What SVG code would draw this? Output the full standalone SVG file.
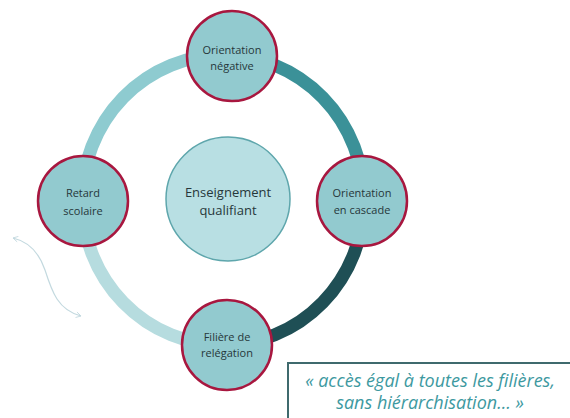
<svg xmlns="http://www.w3.org/2000/svg" width="570" height="418" viewBox="0 0 570 418">
  <style>
    .ring { fill: none; stroke-width: 13; }
    .node circle { fill: #92cacf; stroke: #a8173f; stroke-width: 2.5; }
    .label { font-family: "Open Sans", "Liberation Sans", sans-serif; font-size: 11px; fill: #26373a; text-anchor: middle; }
    .hub circle { fill: #b8dfe3; stroke: #5ea6ac; stroke-width: 1.5; }
    .hub text { font-size: 13px; }
    .quote { font-family: "Open Sans", "Liberation Sans", sans-serif; font-style: italic; font-size: 18px; fill: #3d999f; text-anchor: middle; }
  </style>
  <defs>
    <marker id="chev" viewBox="0 0 10 10" refX="8" refY="5" markerWidth="7" markerHeight="7" orient="auto-start-reverse" markerUnits="userSpaceOnUse">
      <path d="M1,1 L8,5 L1,9" fill="none" stroke="#c3d9df" stroke-width="1.2"/>
    </marker>
  </defs>
  <rect width="570" height="418" fill="#ffffff"/>

  <!-- cycle ring, one arc per step -->
  <g id="connectors">
    <path class="ring" stroke="#3b9198" d="M223,55 A141,145 0 0 1 364,200"/>
    <path class="ring" stroke="#1f4f55" d="M364,200 A141,145 0 0 1 223,345"/>
    <path class="ring" stroke="#b6dcdf" d="M223,345 A141,145 0 0 1 82,200"/>
    <path class="ring" stroke="#8ecbd0" d="M82,200 A141,145 0 0 1 223,55"/>
    <!-- wavy two-way arrow -->
    <path d="M13,238 C30,242 40,255 45,270 C52,292 58,310 81,316" fill="none" stroke="#c3d9df" stroke-width="1.2" marker-start="url(#chev)" marker-end="url(#chev)"/>
  </g>

  <g id="hub" class="hub">
    <circle cx="228" cy="199" r="62"/>
    <text class="label" x="228" y="197">Enseignement</text>
    <text class="label" x="228" y="215">qualifiant</text>
  </g>

  <g id="node-top" class="node">
    <circle cx="232" cy="56" r="45"/>
    <text class="label" x="232" y="54">Orientation</text>
    <text class="label" x="232" y="70">négative</text>
  </g>

  <g id="node-right" class="node">
    <circle cx="362" cy="201" r="45"/>
    <text class="label" x="362" y="197">Orientation</text>
    <text class="label" x="362" y="214">en cascade</text>
  </g>

  <g id="node-bottom" class="node">
    <circle cx="227" cy="345" r="45"/>
    <text class="label" x="227" y="341">Filière de</text>
    <text class="label" x="227" y="357">relégation</text>
  </g>

  <g id="node-left" class="node">
    <circle cx="83" cy="201" r="45"/>
    <text class="label" x="83" y="197">Retard</text>
    <text class="label" x="83" y="215">scolaire</text>
  </g>

  <g id="quote-box">
    <path d="M288,418 L288,363 L572,363" fill="none" stroke="#3f6a6d" stroke-width="2"/>
    <text class="quote" x="430" y="387">« accès égal à toutes les filières,</text>
    <text class="quote" x="430" y="409">sans hiérarchisation… »</text>
  </g>
</svg>
